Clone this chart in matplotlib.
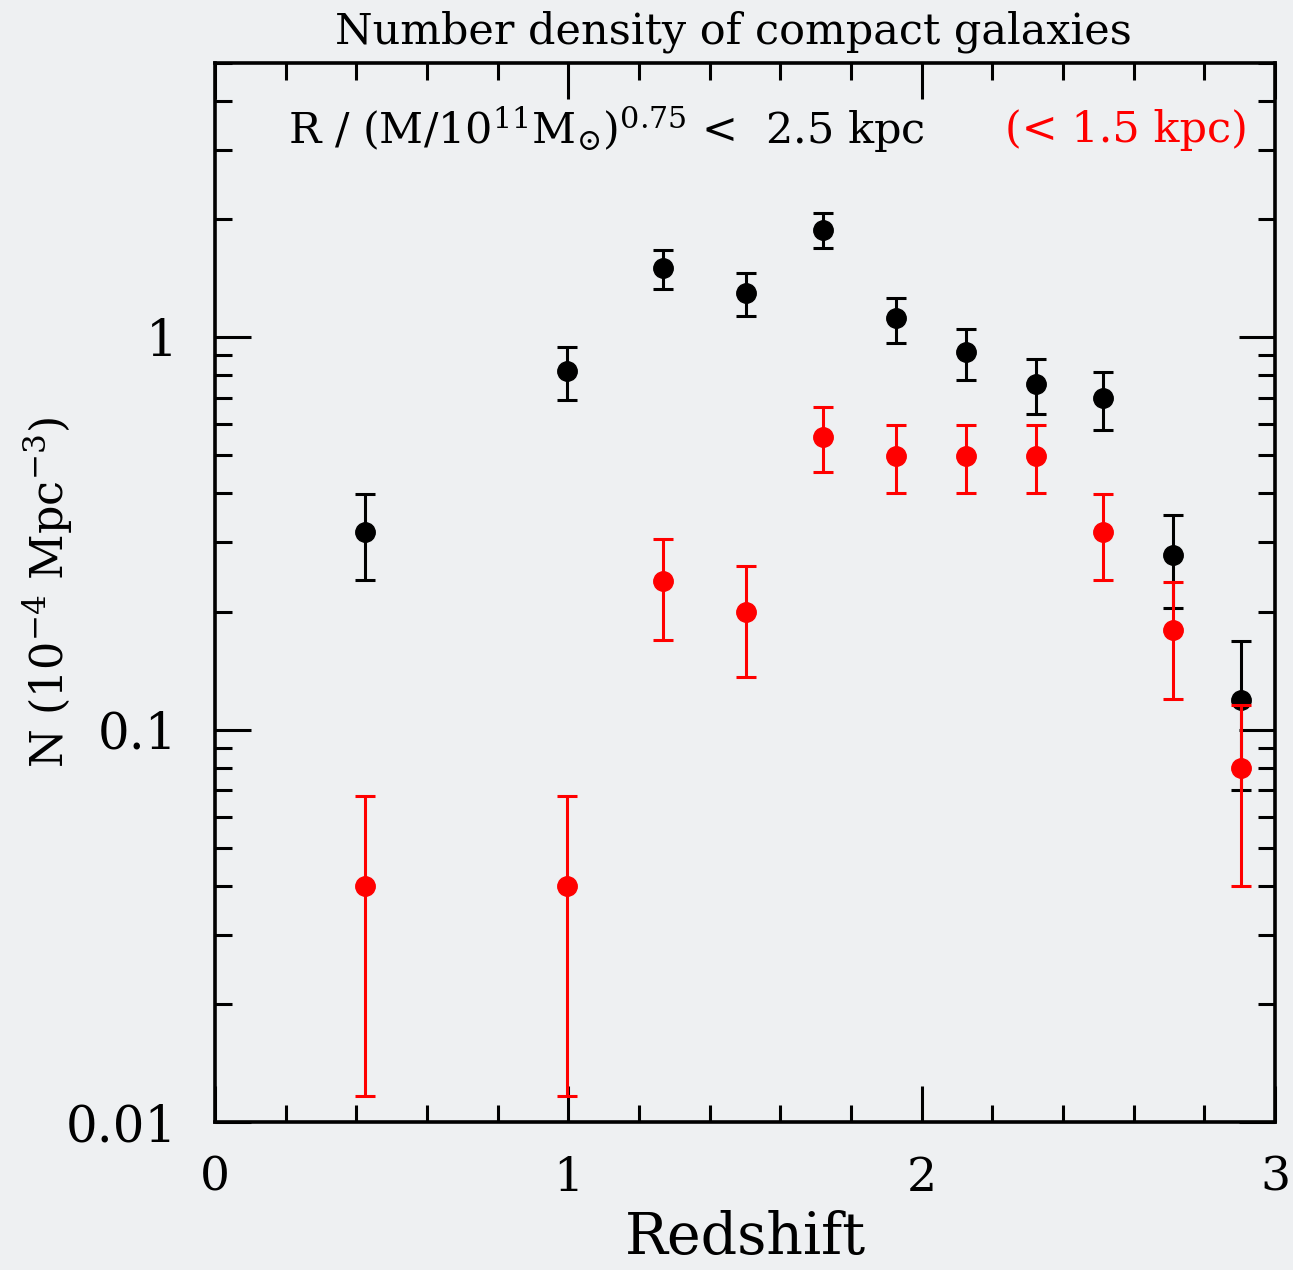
import matplotlib
matplotlib.use("Agg")
import matplotlib.pyplot as plt
from matplotlib.ticker import FixedLocator, NullFormatter, FixedFormatter
import numpy as np

redshift = [0.425, 0.996, 1.268, 1.503, 1.721, 1.927, 2.126, 2.324, 2.513, 2.712, 2.904]

n_25 = [0.318, 0.82, 1.50, 1.295, 1.875, 1.118, 0.916, 0.759, 0.699, 0.278, 0.119]
n_25_hi = [0.398, 0.943, 1.67, 1.456, 2.07, 1.26, 1.048, 0.879, 0.814, 0.352, 0.168]
n_25_lo = [0.240, 0.690, 1.325, 1.13, 1.686, 0.965, 0.777, 0.637, 0.580, 0.204, 0.0701]

n_15 = [0.040, 0.040, 0.239, 0.199, 0.556, 0.498, 0.498, 0.498, 0.318, 0.179, 0.080]
n_15_hi = [0.0677, 0.0677, 0.306, 0.261, 0.663, 0.597, 0.597, 0.597, 0.398, 0.238, 0.1155]
n_15_lo = [0.01165, 0.01165, 0.169, 0.136, 0.453, 0.401, 0.401, 0.401, 0.240, 0.120, 0.040]

x_ticks = [0, 1, 2, 3]
x_ticklabels = ["0", "1", "2", "3"]
y_ticks = [0.01, 0.1, 1]
y_ticklabels = ["0.01", "0.1", "1"]

title = "Number density of compact galaxies"
xlabel = "Redshift"
ylabel = r"N (10$^{-4}$ Mpc$^{-3}$)"
label_black = r"R / (M/10$^{11}$M$_{\odot}$)$^{0.75}$ <  2.5 kpc"
label_red = "(< 1.5 kpc)"

bg = "#eef0f2"
plt.rcParams["font.family"] = ["DejaVu Serif"]
plt.rcParams["mathtext.fontset"] = "dejavuserif"

W, H = 1293, 1270
fig = plt.figure(figsize=(W/100, H/100), dpi=100, facecolor=bg)
ax = fig.add_axes([215/W, 1-1122/H, (1275-215)/W, (1122-63)/H])
ax.set_facecolor(bg)

def errs(v, lo, hi):
    v = np.array(v); lo = np.array(lo); hi = np.array(hi)
    return [v - lo, hi - v]

ax.errorbar(redshift, n_25, yerr=errs(n_25, n_25_lo, n_25_hi), fmt="o", color="black",
            ms=14, elinewidth=2.2, capsize=7.5, capthick=2.2, zorder=3)
ax.errorbar(redshift, n_15, yerr=errs(n_15, n_15_lo, n_15_hi), fmt="o", color="#ff0000",
            ms=14, elinewidth=2.2, capsize=7.5, capthick=2.2, zorder=4)

ax.set_yscale("log")
ax.set_xlim(0, 3)
ax.set_ylim(0.01, 5.0)

ax.xaxis.set_major_locator(FixedLocator(x_ticks))
ax.xaxis.set_major_formatter(FixedFormatter(x_ticklabels))
ax.xaxis.set_minor_locator(FixedLocator(np.arange(0.2, 3.0, 0.2)))
ax.yaxis.set_major_locator(FixedLocator(y_ticks))
ax.yaxis.set_major_formatter(FixedFormatter(y_ticklabels))
minors = [m * d for d in (0.01, 0.1, 1) for m in range(2, 10) if m * d <= 5]
ax.yaxis.set_minor_locator(FixedLocator(minors))
ax.yaxis.set_minor_formatter(NullFormatter())

ax.tick_params(which="both", direction="in", top=True, right=True, width=2.2, color="black")
ax.tick_params(which="major", length=26)
ax.tick_params(axis="x", which="major", pad=24, labelsize=34)
ax.tick_params(axis="y", which="major", pad=27, labelsize=36)
ax.tick_params(which="minor", length=12)
for s in ax.spines.values():
    s.set_linewidth(2.6)

fig.text(733/W, 1-32/H, title, fontsize=31, ha="center", va="center")
fig.text(745/W, 1-1238/H, xlabel, fontsize=41, ha="center", va="center")
fig.text(48/W, 1-593/H, ylabel, fontsize=32, ha="center", va="center", rotation=90)

ax.text(0.069, 0.937, label_black, transform=ax.transAxes, fontsize=31, color="black",
        ha="left", va="center")
ax.text(0.974, 0.937, label_red, transform=ax.transAxes, fontsize=31, color="#ff0000",
        ha="right", va="center")

fig.savefig("out.png", dpi=100, facecolor=bg)
